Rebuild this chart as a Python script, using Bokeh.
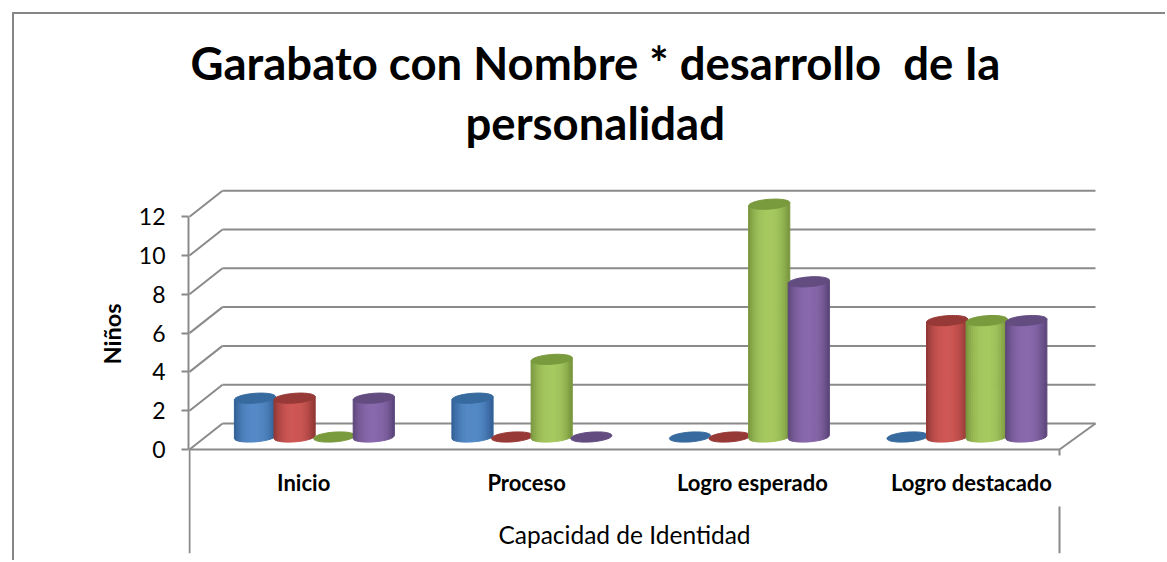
import numpy as np
from bokeh.plotting import figure
from bokeh.models import LinearAxis, FixedTicker, Range1d, Title
from bokeh.embed import file_html
from bokeh.resources import INLINE

categories = ["Inicio", "Proceso", "Logro esperado", "Logro destacado"]
label_positions = [0.525, 1.55, 2.588, 3.595]
serie_1 = [2, 2, 0, 0]
serie_2 = [2, 0, 0, 6]
serie_3 = [0, 4, 12, 6]
serie_4 = [2, 0, 8, 6]
y_ticks = [0, 2, 4, 6, 8, 10, 12]
title_lines = ["Garabato con Nombre * desarrollo \u00a0de Ia", "personalidad"]
x_title = "Capacidad de Identidad"
y_title = "Niños"

series = [serie_1, serie_2, serie_3, serie_4]
body_center = ["#5389C6", "#CE5754", "#A6C85F", "#8868AC"]
body_edge = ["#2F5D92", "#8C3533", "#76943C", "#5A4478"]
cap_color = ["#376A9E", "#973936", "#7A9A3E", "#624C80"]
GRID = "#8A8A8A"

PX_X = 217.5   # pixels per category
PX_Y = 19.4    # pixels per value unit
W, H = 1153, 548
ML, MT = 174, 138

def mix(a, b, t):
    ca = [int(a[i:i+2], 16) for i in (1, 3, 5)]
    cb = [int(b[i:i+2], 16) for i in (1, 3, 5)]
    return "#%02x%02x%02x" % tuple(int(round(p + (q - p) * t)) for p, q in zip(ca, cb))

frame_w, frame_h = 912, 401
x0 = -1 / PX_X
p = figure(width=W, height=H, output_backend="svg", toolbar_location=None,
           x_axis_location=None, y_axis_location=None,
           x_range=Range1d(x0, x0 + frame_w / PX_X),
           y_range=Range1d(-104 / PX_Y, 297 / PX_Y),
           min_border_left=ML, min_border_top=MT,
           min_border_right=W - ML - frame_w, min_border_bottom=H - MT - frame_h,
           outline_line_color=None, background_fill_color="white",
           margin=(12, 0, 0, 12),
           styles={"border-top": "2px solid #868686", "border-left": "2px solid #868686"})
p.grid.visible = False

# 3-D walls
dx, dy = 33 / PX_X, 26 / PX_Y
ticks = np.array(y_ticks, float)
p.segment(np.full(7, dx), ticks + dy, np.full(7, 4 + 36 / PX_X), ticks + dy, line_color=GRID, line_width=2)
p.segment(np.zeros(7), ticks, np.full(7, dx), ticks + dy, line_color=GRID, line_width=2)
p.segment([4], [0], [4 + 36 / PX_X], [dy], line_color=GRID, line_width=2)
# separators below the axis
p.segment([0, 4, 4], [0, 0, -57 / PX_Y], [0, 4, 4], [-104 / PX_Y, -6 / PX_Y, -104 / PX_Y],
          line_color=GRID, line_width=2)

# cylinders
step, rx = 39.6 / PX_X, 20.6 / PX_X
ry, tilt, base = 4.9 / PX_Y, 1.5 / PX_Y, 12.5 / PX_Y
first = 65.5 / PX_X
N = 22
edges = np.linspace(-1, 1, N + 1)
theta = np.linspace(0, 2 * np.pi, 61)
xs, ys, cols = [], [], []
for c in range(len(categories)):
    for s, vals in enumerate(series):
        cx = c + first + s * step
        top = base + vals[c]
        if vals[c] > 0:
            for i in range(N):
                u = np.linspace(edges[i], edges[i + 1], 3)
                low = base - ry * np.sqrt(1 - u ** 2) + tilt * u
                high = top + tilt * u
                xs.append(np.r_[cx + rx * u, cx + rx * u[::-1]])
                ys.append(np.r_[low, high[::-1]])
                um = abs((edges[i] + edges[i + 1]) / 2)
                cols.append(mix(body_center[s], body_edge[s], um ** 2.4))
        xs.append(cx + rx * np.cos(theta))
        ys.append(top + ry * np.sin(theta) + tilt * np.cos(theta))
        cols.append(cap_color[s])
p.patches(xs, ys, fill_color=cols, line_color=cols, line_width=1)

yax = LinearAxis(bounds=(0, 12), ticker=FixedTicker(ticks=y_ticks),
                 major_label_text_font="Lato", major_label_text_font_size="23px",
                 major_label_text_color="black", major_label_standoff=16,
                 major_tick_in=0, major_tick_out=7, minor_tick_line_color=None,
                 axis_line_color=GRID, axis_line_width=2, major_tick_line_color=GRID, major_tick_line_width=2)
p.add_layout(yax, "left")

# y-axis title, placed along the axis span rather than the taller frame
p.add_layout(Title(text=y_title, text_font="Lato", text_font_size="23.5px", text_font_style="bold",
                   text_color="black", align="left", offset=189, standoff=20), "left")

xax = LinearAxis(fixed_location=0, bounds=(0, 4), ticker=FixedTicker(ticks=label_positions),
                 major_label_overrides=dict(zip(label_positions, categories)),
                 major_label_text_font="Lato", major_label_text_font_size="22px",
                 major_label_text_font_style="bold", major_label_text_color="black",
                 major_label_standoff=19, major_tick_in=0, major_tick_out=0,
                 minor_tick_line_color=None, axis_line_color=GRID, axis_line_width=2,
                 axis_label=x_title, axis_label_text_font="Lato", axis_label_text_font_size="24.5px",
                 axis_label_text_font_style="normal", axis_label_text_color="black",
                 axis_label_standoff=21)
p.add_layout(xax, "below")

p.add_layout(Title(text=title_lines[1], text_font="Lato", text_font_size="45.5px", text_font_style="bold",
                   text_color="black", align="left", offset=277, standoff=6), "above")
p.add_layout(Title(text=title_lines[0], text_font="Lato", text_font_size="45.5px", text_font_style="bold",
                   text_color="black", align="left", offset=2, standoff=0), "above")

open("out.html", "w").write(file_html(p, INLINE))
